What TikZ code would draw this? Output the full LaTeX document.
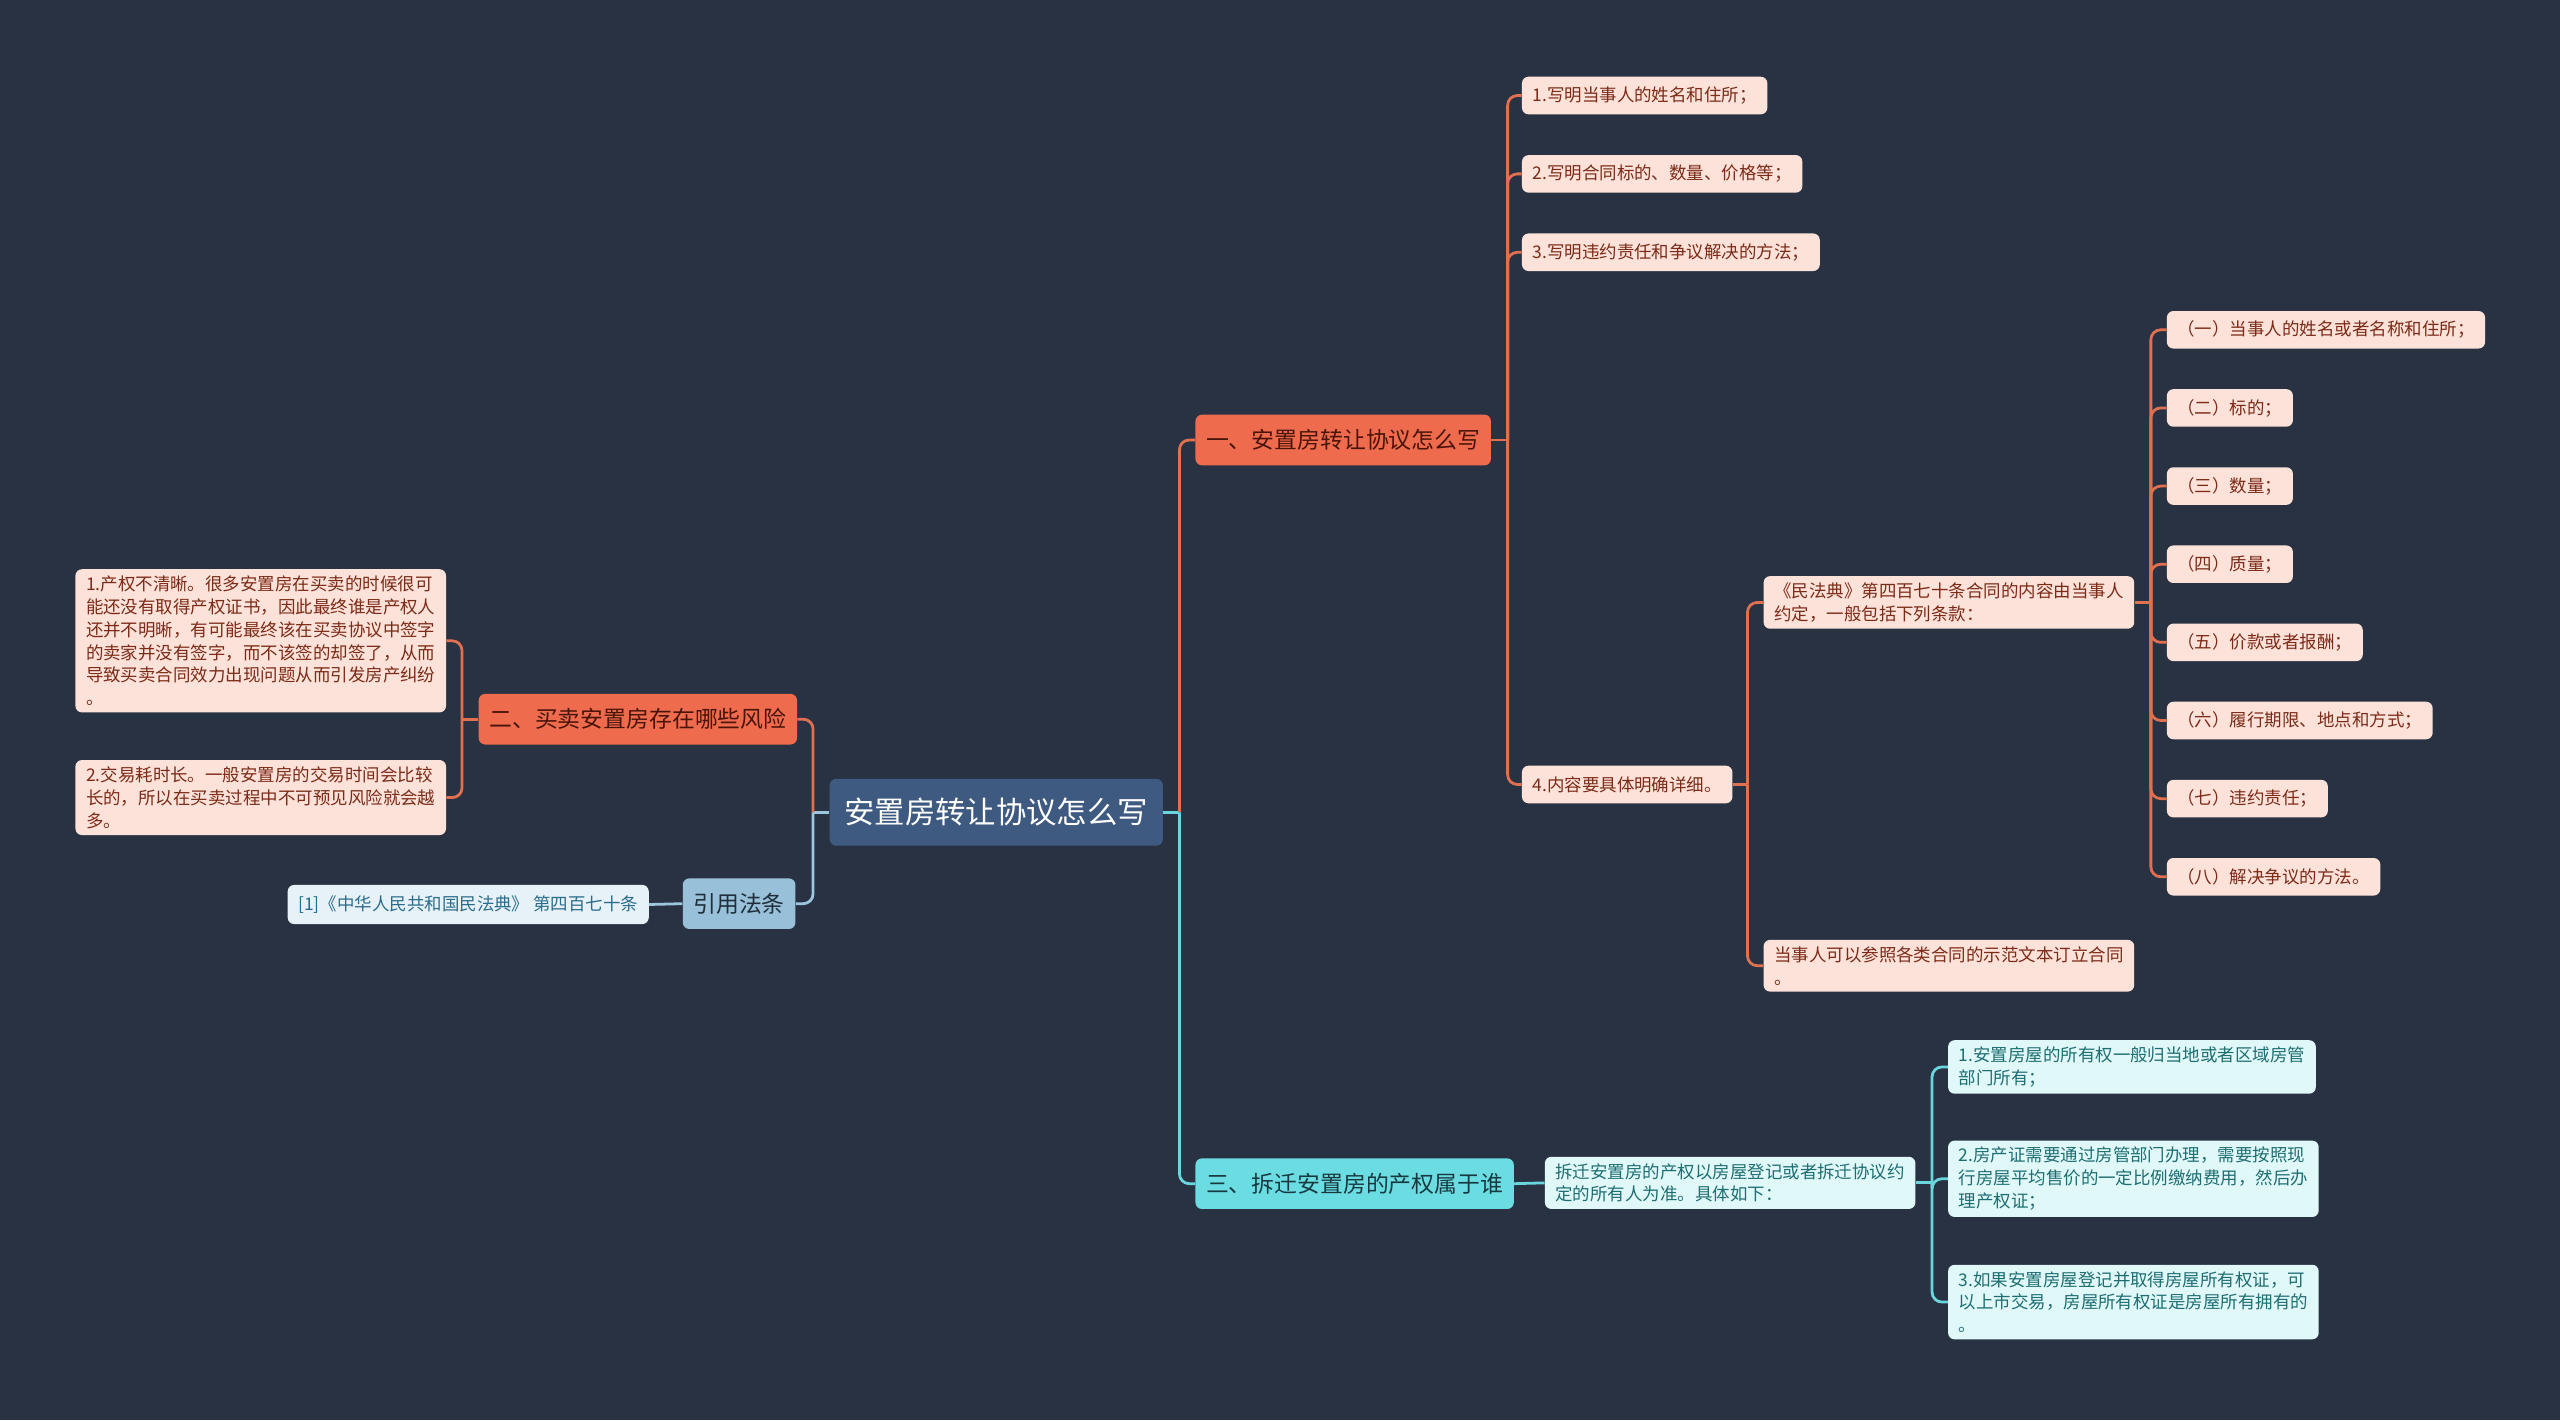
\documentclass[tikz,border=0pt]{standalone}
\usepackage{fontspec}
\setmainfont{Noto Sans CJK SC}
\usepackage{tikz}
\usetikzlibrary{positioning}

\definecolor{bgnavy}{HTML}{293242}
\definecolor{rootblue}{HTML}{3E5A80}
\definecolor{coral}{HTML}{EE6C4D}
\definecolor{coraltext}{HTML}{4A1408}
\definecolor{coralline}{HTML}{E0704F}
\definecolor{peach}{HTML}{FDE2DA}
\definecolor{peachtext}{HTML}{7B2B17}
\definecolor{citeblue}{HTML}{98C1D9}
\definecolor{citetext}{HTML}{1F2E3A}
\definecolor{citeleaf}{HTML}{E6F2F7}
\definecolor{citeleaftext}{HTML}{2A6C8C}
\definecolor{blueline}{HTML}{9CC5DE}
\definecolor{cyanbox}{HTML}{6CDCE3}
\definecolor{cyantext}{HTML}{173A40}
\definecolor{cyanline}{HTML}{69D5DD}
\definecolor{mint}{HTML}{E0F8F8}
\definecolor{minttext}{HTML}{1E6E72}

\begin{document}
\begin{tikzpicture}[x=1pt,y=-1pt,
    box/.style={rounded corners=4pt, anchor=west, inner xsep=6.5pt, inner ysep=4pt, align=left},
    rootbox/.style={box, fill=rootblue, text=white, font=\fontsize{18.6}{22}\selectfont, minimum height=41pt, inner xsep=9pt},
    redbox/.style={box, fill=coral, text=coraltext, font=\fontsize{14}{17}\selectfont, minimum height=31pt},
    leafbox/.style={box, fill=peach, text=peachtext, font=\fontsize{10.7}{14}\selectfont, minimum height=23pt},
    citebox/.style={box, fill=citeblue, text=citetext, font=\fontsize{14}{17}\selectfont, minimum height=31pt},
    citeleafbox/.style={box, fill=citeleaf, text=citeleaftext, font=\fontsize{10.7}{14}\selectfont, minimum height=24pt},
    cyanbranch/.style={box, fill=cyanbox, text=cyantext, font=\fontsize{14}{17}\selectfont, minimum height=31pt},
    mintbox/.style={box, fill=mint, text=minttext, font=\fontsize{10.7}{14}\selectfont, minimum height=23pt},
    redline/.style={draw=coralline, line width=1.7pt, rounded corners=6pt},
    cyanconn/.style={draw=cyanline, line width=1.7pt, rounded corners=6pt},
    blueconn/.style={draw=blueline, line width=1.7pt, rounded corners=6pt}]

  % Background
  \fill[bgnavy] (0,0) rectangle (1568,870);
  \useasboundingbox (0,0) rectangle (1568,870);

  % Root
  \node[rootbox] (root) at (508,497.5) {安置房转让协议怎么写};

  % Main branches
  \node[redbox] (b1) at (732,269.5) {一、安置房转让协议怎么写};
  \node[redbox] (b2) at (293,440.5) {二、买卖安置房存在哪些风险};
  \node[citebox] (cite) at (418,553.5) {引用法条};
  \node[cyanbranch] (b3) at (732,725) {三、拆迁安置房的产权属于谁};

  % Branch one
  \node[leafbox] (l1) at (932,58.5) {1.写明当事人的姓名和住所；};
  \node[leafbox] (l2) at (932,106.5) {2.写明合同标的、数量、价格等；};
  \node[leafbox] (l3) at (932,154.5) {3.写明违约责任和争议解决的方法；};
  \node[leafbox] (l4) at (932,480.5) {4.内容要具体明确详细。};
  \node[leafbox] (m1) at (1080,369) {《民法典》第四百七十条合同的内容由当事人\\约定，一般包括下列条款：};
  \node[leafbox] (m2) at (1080,591.5) {当事人可以参照各类合同的示范文本订立合同\\。};
  \foreach \t [count=\i] in {（一）当事人的姓名或者名称和住所；, （二）标的；, （三）数量；,
      （四）质量；, （五）价款或者报酬；, （六）履行期限、地点和方式；, （七）违约责任；,
      （八）解决争议的方法。}
    \node[leafbox] (k\i) at (1327,202+47.86*\i-47.86) {\t};

  % Branch two
  \node[leafbox] (r1) at (46,392.5) {1.产权不清晰。很多安置房在买卖的时候很可\\能还没有取得产权证书，因此最终谁是产权人\\还并不明晰，有可能最终该在买卖协议中签字\\的卖家并没有签字，而不该签的却签了，从而\\导致买卖合同效力出现问题从而引发房产纠纷\\。};
  \node[leafbox] (r2) at (46,488.5) {2.交易耗时长。一般安置房的交易时间会比较\\长的，所以在买卖过程中不可预见风险就会越\\多。};
  \node[citeleafbox] (c1) at (176,554) {[1]《中华人民共和国民法典》 第四百七十条};

  % Branch three
  \node[mintbox] (s0) at (946,724.5) {拆迁安置房的产权以房屋登记或者拆迁协议约\\定的所有人为准。具体如下：};
  \node[mintbox] (s1) at (1193,653.5) {1.安置房屋的所有权一般归当地或者区域房管\\部门所有；};
  \node[mintbox] (s2) at (1193,722) {2.房产证需要通过房管部门办理，需要按照现\\行房屋平均售价的一定比例缴纳费用，然后办\\理产权证；};
  \node[mintbox] (s3) at (1193,797.5) {3.如果安置房屋登记并取得房屋所有权证，可\\以上市交易，房屋所有权证是房屋所有拥有的\\。};

  % Junctions
  \coordinate (rootR) at ([xshift=10pt]root.east);
  \coordinate (rootL) at ([xshift=-10pt]root.west);
  \coordinate (b1R) at ([xshift=10pt]b1.east);
  \coordinate (l4R) at ([xshift=9pt]l4.east);
  \coordinate (m1R) at ([xshift=10pt]m1.east);
  \coordinate (b2L) at ([xshift=-10pt]b2.west);
  \coordinate (s0R) at ([xshift=10pt]s0.east);

  % Connectors
  \draw[cyanconn] (root.east) -- (rootR);
  \draw[redline] (rootR) |- (b1.west);
  \draw[cyanconn] (rootR) |- (b3.west);
  \draw[blueconn] (root.west) -- (rootL);
  \draw[redline] (rootL) |- (b2.east);
  \draw[blueconn] (rootL) |- (cite.east);
  \draw[blueconn] (cite.west) -- (c1.east);

  \draw[redline] (b1.east) -- (b1R);
  \foreach \n in {l1,l2,l3,l4}
    \draw[redline] (b1R) |- (\n.west);
  \draw[redline] (l4.east) -- (l4R);
  \draw[redline] (l4R) |- (m1.west);
  \draw[redline] (l4R) |- (m2.west);
  \draw[redline] (m1.east) -- (m1R);
  \foreach \i in {1,...,8}
    \draw[redline] (m1R) |- (k\i.west);

  \draw[redline] (b2.west) -- (b2L);
  \draw[redline] (b2L) |- (r1.east);
  \draw[redline] (b2L) |- (r2.east);

  \draw[cyanconn] (b3.east) -- (s0.west);
  \draw[cyanconn] (s0.east) -- (s0R);
  \foreach \n in {s1,s2,s3}
    \draw[cyanconn] (s0R) |- (\n.west);
\end{tikzpicture}
\end{document}
